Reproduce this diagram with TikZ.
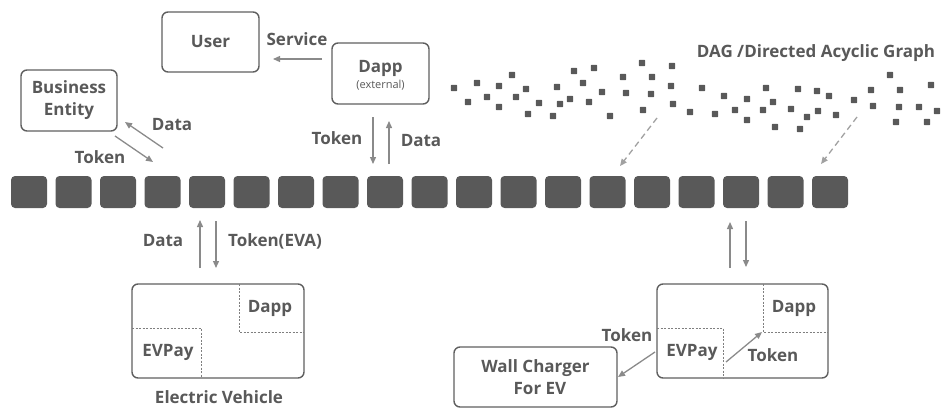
\documentclass[tikz,border=0pt]{standalone}
\usepackage{fontspec}
\setmainfont{Open Sans}
\usetikzlibrary{arrows.meta}
\definecolor{txt}{HTML}{595959}
\definecolor{brd}{HTML}{5F5F5F}
\definecolor{arr}{HTML}{8A8A8A}
\definecolor{blk}{HTML}{595959}
\begin{document}
\begin{tikzpicture}[x=1pt,y=-1pt,
 box/.style={draw=brd, line width=1.4pt, rounded corners=6pt, inner sep=0pt},
 lbl/.style={text=txt, font=\bfseries\fontsize{17}{22}\selectfont, inner sep=0pt, align=center},
 small/.style={text=txt, font=\fontsize{11}{13}\selectfont, inner sep=0pt},
 flow/.style={draw=arr, line width=1.3pt, -{Triangle[length=7pt,width=6pt]}},
 dflow/.style={flow, dash pattern=on 6pt off 4pt},
 dline/.style={draw=brd!80, line width=0.6pt, dash pattern=on 2pt off 1.5pt},
 blockc/.style={fill=blk, rounded corners=4pt, minimum width=36pt, minimum height=32pt, inner sep=0pt},
 dot/.style={fill=blk, rounded corners=0.8pt}]
\useasboundingbox (0,0) rectangle (941,409);
% boxes
\node[box, minimum width=97pt, minimum height=60pt] (user) at (210.5,42) {};
\node[lbl] at (user) {User};
\node[box, minimum width=97pt, minimum height=61pt] (dapp) at (380.5,73.5) {};
\node[lbl] (dapplbl) at (380.5,68) {Dapp};
\node[small] at (380.5,85) {(external)};
\node[box, minimum width=96pt, minimum height=61pt] (biz) at (69,100.5) {};
\node[lbl] at (biz) {Business\\Entity};
\node[box, minimum width=172pt, minimum height=94pt] (ev) at (218,331) {};
\node[box, minimum width=171pt, minimum height=94pt] (ev2) at (742.5,331) {};
\node[box, minimum width=163pt, minimum height=60pt] (wall) at (535.5,377) {};
\node[lbl] at (wall) {Wall Charger\\\ \ For EV};
% inner dashed regions
\coordinate (a1) at (239,284); \coordinate (a2) at (239,332); \coordinate (a3) at (304,332);
\draw[dline] (a1) -- (a2) -- (a3);
\coordinate (b1) at (132,328); \coordinate (b2) at (201,328); \coordinate (b3) at (201,378);
\draw[dline] (b1) -- (b2) -- (b3);
\coordinate (c1) at (763,284); \coordinate (c2) at (763,332); \coordinate (c3) at (828,332);
\draw[dline] (c1) -- (c2) -- (c3);
\coordinate (d1) at (657,328); \coordinate (d2) at (723,328); \coordinate (d3) at (723,378);
\draw[dline] (d1) -- (d2) -- (d3);
\node[lbl] at (270,308) {Dapp};
\node[lbl] at (168,352) {EVPay};
\node[lbl] at (794,308) {Dapp};
\node[lbl] at (692,352) {EVPay};
\node[lbl] at (219,397) {Electric Vehicle};
% blockchain
\foreach \i in {0,...,18} {
  \node[blockc] (blk\i) at ({29+\i*44.5},192) {};
}
% DAG dots
\foreach \x/\y in {454/88,477/83,468/102,487/97,499/86,499/107,512/75,516/97,526/89,528/114,539/103,553/116,557/87,560/104,570/99,574/71,583/83,589/102,594/68,602/92,610/116,623/77,626/93,642/63,652/77,651/94,643/110,672/66,671/86,673/104,690/112,702/88,715/114,724/96,735/110,747/99,747/120,763/110,766/88,773/102,775/127,791/109,798/89,800/129,807/117,817/91,818/111,829/96,836/115,854/100,871/90,873/106,890/75,900/90,899/107,896/122,919/107,927/122,931/85,937/111} {
  \fill[dot] (\x-3.2,\y-3.2) rectangle (\x+3.2,\y+3.2);
}
\node[lbl] at (816,53) {DAG /Directed Acyclic Graph};
% arrows
\coordinate (s1) at (322,59); \coordinate (s2) at (273,59);
\draw[flow] (s1) -- (s2);
\node[lbl] at (297,39) {Service};
\coordinate (bd1) at (163,148); \coordinate (bd2) at (125,122);
\draw[flow] (bd1) -- (bd2);
\coordinate (bt1) at (115,136); \coordinate (bt2) at (153,162);
\draw[flow] (bt1) -- (bt2);
\node[lbl] at (172,125) {Data};
\node[lbl] at (100,157) {Token};
\coordinate (dt1) at (373,117); \coordinate (dt2) at (373,164);
\draw[flow] (dt1) -- (dt2);
\coordinate (dd1) at (389,164); \coordinate (dd2) at (389,121);
\draw[flow] (dd1) -- (dd2);
\node[lbl] at (337,138) {Token};
\node[lbl] at (421,141) {Data};
\coordinate (ed1) at (200,268); \coordinate (ed2) at (200,220);
\draw[flow] (ed1) -- (ed2);
\coordinate (et1) at (216,221); \coordinate (et2) at (216,268);
\draw[flow] (et1) -- (et2);
\node[lbl] at (163,241) {Data};
\node[lbl] at (275,241) {Token(EVA)};
\coordinate (r1) at (730,268); \coordinate (r2) at (730,222);
\draw[flow] (r1) -- (r2);
\coordinate (r3) at (746,221); \coordinate (r4) at (746,267);
\draw[flow] (r3) -- (r4);
\coordinate (w1) at (655,352); \coordinate (w2) at (618,377);
\draw[flow] (w1) -- (w2);
\node[lbl] at (627,335) {Token};
\coordinate (p1) at (726,362); \coordinate (p2) at (762,332);
\draw[flow] (p1) -- (p2);
\node[lbl] at (773,355) {Token};
\coordinate (g1) at (657,118); \coordinate (g2) at (620,166);
\draw[dflow, draw=arr!80] (g1) -- (g2);
\coordinate (g3) at (857,117); \coordinate (g4) at (821,164);
\draw[dflow, draw=arr!80] (g3) -- (g4);
\end{tikzpicture}
\end{document}
